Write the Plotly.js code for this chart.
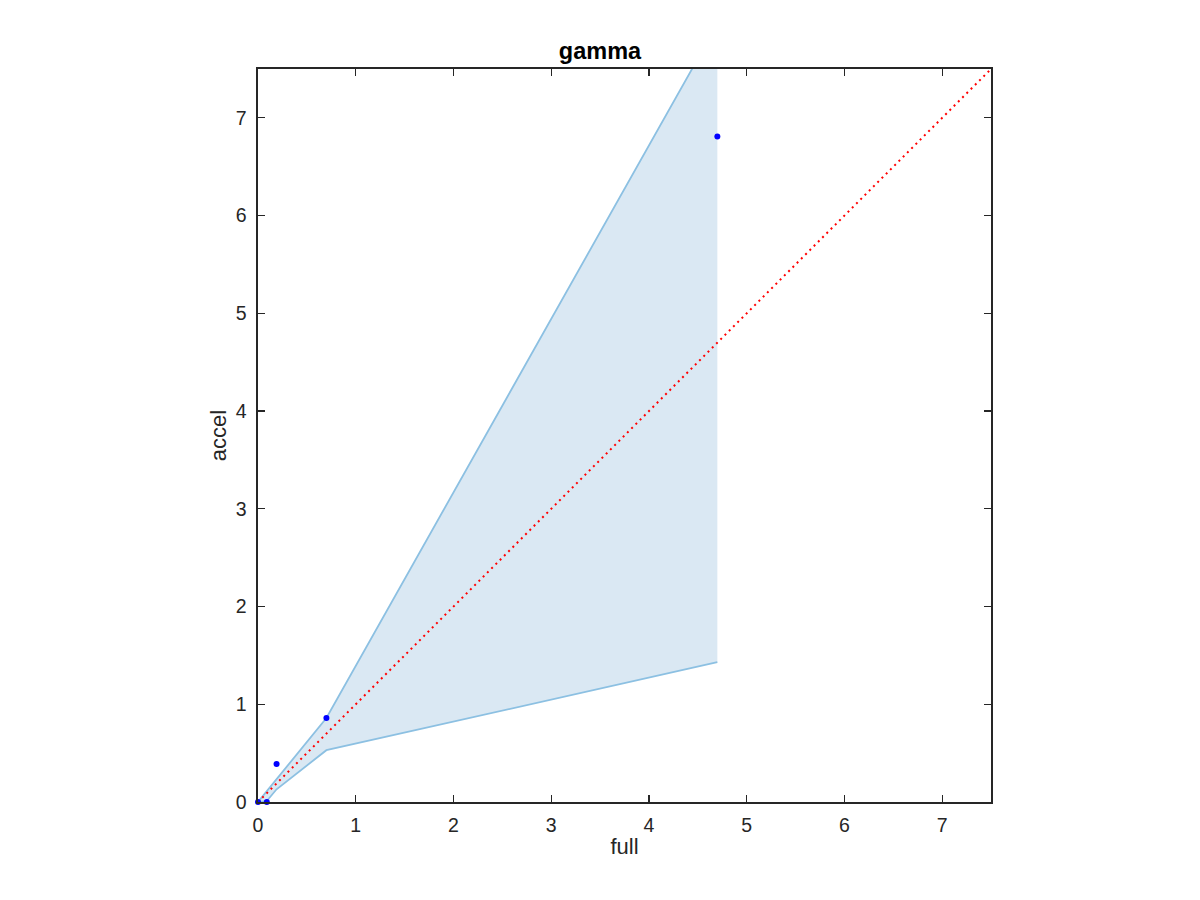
<!DOCTYPE html>
<html>
<head>
<meta charset="utf-8">
<script src="https://cdn.plot.ly/plotly-3.0.1.min.js"></script>
<style>html,body{margin:0;padding:0;background:#fff;}#chart{width:1200px;height:900px;}</style>
</head>
<body>
<div id="chart"></div>
<script>
// Data
const bandX = [0, 0.09, 0.19, 0.70, 4.70];
const bandUpper = [0, 0.11, 0.23, 0.86, 7.96];
const bandLower = [0, 0.01, 0.13, 0.53, 1.43];
const pointsX = [0, 0.09, 0.19, 0.70, 4.70];
const pointsY = [0, 0, 0.39, 0.86, 6.81];
const diagX = [0, 7.5];
const diagY = [0, 7.5];
const tickVals = [0, 1, 2, 3, 4, 5, 6, 7];

const polyX = bandX.concat(bandX.slice().reverse());
const polyY = bandUpper.concat(bandLower.slice().reverse());

const FONT = 'Liberation Sans, Arial, sans-serif';
const lineCol = 'rgb(140,192,226)';
const traces = [
  {x: polyX, y: polyY, type: 'scatter', mode: 'lines', fill: 'toself',
   fillcolor: 'rgb(218,232,243)', line: {width: 0, color: 'rgba(0,0,0,0)'}, hoverinfo: 'skip'},
  {x: bandX, y: bandUpper, type: 'scatter', mode: 'lines', line: {color: lineCol, width: 1.8}},
  {x: bandX, y: bandLower, type: 'scatter', mode: 'lines', line: {color: lineCol, width: 1.8}},
  {x: diagX, y: diagY, type: 'scatter', mode: 'lines', line: {color: 'rgb(255,0,0)', width: 2, dash: '2px,4px'}},
  {x: pointsX, y: pointsY, type: 'scatter', mode: 'markers', marker: {color: 'rgb(0,0,255)', size: 6}, cliponaxis: false}
];

const axisCommon = {
  range: [0, 7.5], tickvals: tickVals, ticks: 'inside', ticklen: 7, tickwidth: 1.2,
  tickcolor: '#262626', showline: true, linecolor: '#262626', linewidth: 1.6, mirror: 'ticks',
  showgrid: false, zeroline: false, tickfont: {family: FONT, size: 19.5, color: '#262626'}
};

const layout = {
  width: 1200, height: 900,
  margin: {l: 258, r: 209, t: 69, b: 98},
  paper_bgcolor: '#fff', plot_bgcolor: '#fff',
  showlegend: false,
  title: {text: '<b>gamma</b>', x: 0.5, xanchor: 'center', y: 1 - 51/900, yanchor: 'middle',
          font: {family: FONT, size: 23.5, color: '#000'}},
  xaxis: Object.assign({}, axisCommon, {ticklabelstandoff: 5, title: {text: 'full', standoff: 3,
          font: {family: FONT, size: 22, color: '#262626'}}}),
  yaxis: Object.assign({}, axisCommon, {ticklabelstandoff: 6, title: {text: 'accel', standoff: 3,
          font: {family: FONT, size: 22, color: '#262626'}}})
};

Plotly.newPlot('chart', traces, layout, {staticPlot: true});
</script>
</body>
</html>
